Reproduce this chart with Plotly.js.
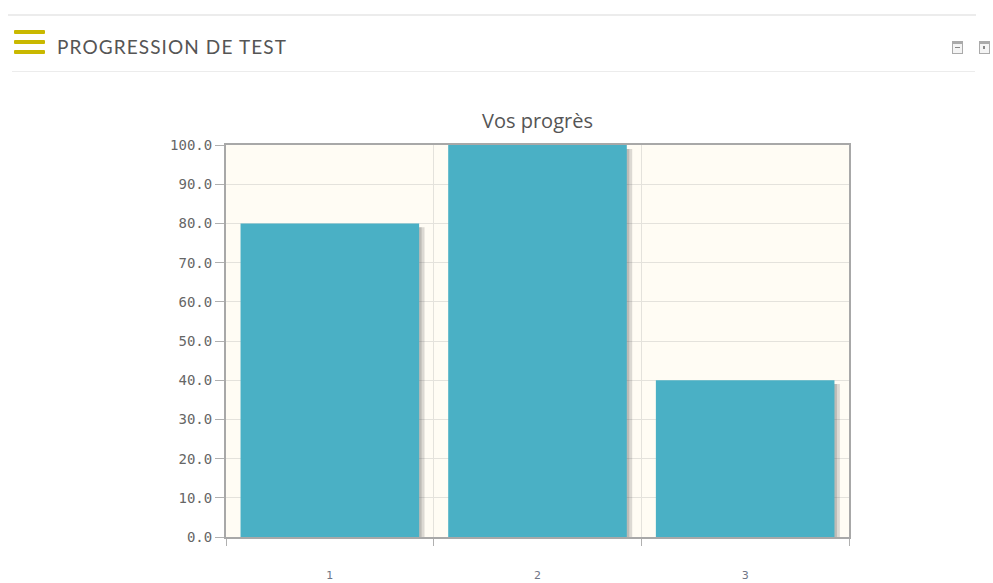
<!DOCTYPE html>
<html>
<head>
<meta charset="utf-8">
<script src="https://cdn.plot.ly/plotly-3.0.1.min.js"></script>
<style>
  html, body { margin: 0; padding: 0; background: #ffffff; width: 993px; height: 583px; overflow: hidden; }
  #chart { position: absolute; left: 0; top: 0; width: 993px; height: 583px; }
  .hdr-top { position: absolute; left: 8px; top: 14px; width: 968px; height: 2px; background: #ececec; }
  .hdr-bot { position: absolute; left: 12px; top: 71px; width: 963px; height: 1px; background: #ececec; }
  .burger { position: absolute; left: 14px; width: 31px; height: 4px; background: #c9b800; border-radius: 1px; }
  .hdr-title { position: absolute; left: 57px; top: 35px; font-family: Lato, "Noto Sans", sans-serif; font-size: 19px; color: #555; letter-spacing: 1.1px; white-space: nowrap; }
  .ico { position: absolute; top: 41px; width: 9px; height: 9px; border: 1px solid #aaa; border-top: 3px solid #aaa; background: #f4f4f4; box-sizing: content-box; }
  .ico span { position: absolute; left: 2px; top: 3px; width: 5px; height: 1px; background: #888; }
</style>
</head>
<body>
<div id="chart"></div>
<div class="hdr-top"></div>
<div class="burger" style="top:30px"></div>
<div class="burger" style="top:40px"></div>
<div class="burger" style="top:50px"></div>
<div class="hdr-title">PROGRESSION DE TEST</div>
<div class="ico" style="left:952px"><span></span></div>
<div class="ico" style="left:979px"><span style="left:3px;width:2px;height:3px;top:2px"></span></div>
<div class="hdr-bot"></div>
<script>
const categories = [1, 2, 3];
const scores = [80, 100, 40];
const yTickValues = [0, 10, 20, 30, 40, 50, 60, 70, 80, 90, 100];
const chartTitle = "Vos progrès";

const barWidth = 0.86;
const boundaries = [categories[0] - 0.5].concat(categories.map(c => c + 0.5));

function shadowTrace(shift, alpha) {
  return {
    type: 'bar',
    x: categories,
    y: scores.map(v => v - 1),
    width: barWidth,
    offset: -barWidth / 2 + shift,
    marker: { color: 'rgba(80,80,80,' + alpha + ')', line: { width: 0 } },
    hoverinfo: 'skip',
    showlegend: false
  };
}
const bars = {
  type: 'bar',
  x: categories,
  y: scores,
  width: barWidth,
  marker: { color: '#4ab0c5', line: { width: 0 } },
  showlegend: false
};

const layout = {
  width: 993,
  height: 583,
  margin: { l: 226, r: 144, t: 145, b: 46, pad: 0 },
  paper_bgcolor: 'rgba(0,0,0,0)',
  plot_bgcolor: '#fffcf4',
  barmode: 'overlay',
  title: {
    text: chartTitle,
    font: { family: '"Open Sans", sans-serif', size: 20, color: '#555' },
    x: 0.5, xref: 'paper',
    y: 1 - 121 / 583, yref: 'container', yanchor: 'middle'
  },
  xaxis: {
    range: [boundaries[0], boundaries[boundaries.length - 1]],
    tickmode: 'array',
    tickvals: categories,
    ticktext: categories.map(String),
    ticks: '',
    showgrid: false,
    zeroline: false,
    showline: true, linecolor: '#a8a8a8', linewidth: 2, mirror: true,
    ticklabelstandoff: 27,
    tickfont: { family: '"DejaVu Sans", sans-serif', size: 11, color: '#6f7585' },
    minor: {
      tickmode: 'array',
      tickvals: boundaries,
      ticks: 'outside', ticklen: 7, tickcolor: '#b0b0b0', tickwidth: 1,
      showgrid: true, gridcolor: '#e4e2dc', gridwidth: 1
    },
    fixedrange: true
  },
  yaxis: {
    range: [0, 100],
    tickmode: 'array',
    tickvals: yTickValues,
    tickformat: '.1f',
    ticks: 'outside', ticklen: 9, tickcolor: '#b0b0b0',
    showgrid: true, gridcolor: '#e4e2dc', gridwidth: 1,
    zeroline: false,
    showline: true, linecolor: '#a8a8a8', linewidth: 2, mirror: true,
    tickfont: { family: '"DejaVu Sans Mono", monospace', size: 14, color: '#666' },
    fixedrange: true
  }
};

Plotly.newPlot('chart', [shadowTrace(0.026, 0.2), shadowTrace(0.012, 0.22), bars], layout, { displayModeBar: false, staticPlot: true });
</script>
</body>
</html>
